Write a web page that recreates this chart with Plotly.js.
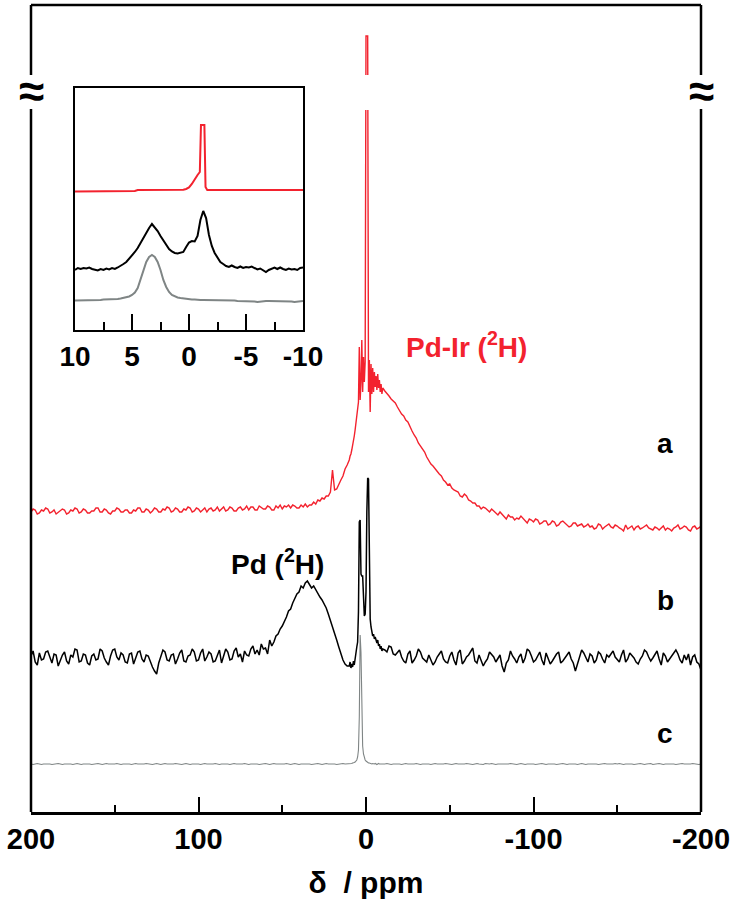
<!DOCTYPE html>
<html>
<head>
<meta charset="utf-8">
<script src="https://cdn.plot.ly/plotly-3.0.1.min.js"></script>
<style>html,body{margin:0;padding:0;background:#fff;}#chart{width:736px;height:913px;}</style>
</head>
<body>
<div id="chart"></div>
<script>
// ---------- Main spectrum: chemical shift (ppm) ----------
const mainXLeft = [
  200,198.75,197.5,196.25,195,193.75,192.5,191.25,
  190,188.75,187.5,186.25,185,183.75,182.5,181.25,
  180,178.75,177.5,176.25,175,173.75,172.5,171.25,
  170,168.75,167.5,166.25,165,163.75,162.5,161.25,
  160,158.75,157.5,156.25,155,153.75,152.5,151.25,
  150,148.75,147.5,146.25,145,143.75,142.5,141.25,
  140,138.75,137.5,136.25,135,133.75,132.5,131.25,
  130,128.75,127.5,126.25,125,123.75,122.5,121.25,
  120,118.75,117.5,116.25,115,113.75,112.5,111.25,
  110,108.75,107.5,106.25,105,103.75,102.5,101.25,
  100,98.75,97.5,96.25,95,93.75,92.5,91.25,
  90,88.75,87.5,86.25,85,83.75,82.5,81.25,
  80,78.75,77.5,76.25,75,73.75,72.5,71.25,
  70,68.75,67.5,66.25,65,63.75,62.5,61.25,
  60,58.75,57.5,56.25,55,53.75,52.5,51.25,
  50,48.75,47.5,46.25,45,43.75,42.5,41.25,
  40,38.75,37.5,36.25,35,33.75,32.5,31.25,
  30,28.75,27.5,26.25,25,23.75,22.5,21.25,
  20,18.75,17.5,16.25,15,13.75,12.5,11.25];
const mainXMid = [10,9.5,9,8.5,8,7.5,7,6.5,6,5.5,
  5,4.5,4,3.5,3,2.5,2,1.5,1,0.5,
  0,-0.5,-1,-1.5,-2,-2.5,-3,-3.5,-4,-4.5,
  -5,-5.5,-6,-6.5,-7,-7.5,-8,-8.5,-9,-9.5,
  -10];
const mainXRight = [
  -11.25,-12.5,-13.75,-15,-16.25,-17.5,-18.75,-20,
  -21.25,-22.5,-23.75,-25,-26.25,-27.5,-28.75,-30,
  -31.25,-32.5,-33.75,-35,-36.25,-37.5,-38.75,-40,
  -41.25,-42.5,-43.75,-45,-46.25,-47.5,-48.75,-50,
  -51.25,-52.5,-53.75,-55,-56.25,-57.5,-58.75,-60,
  -61.25,-62.5,-63.75,-65,-66.25,-67.5,-68.75,-70,
  -71.25,-72.5,-73.75,-75,-76.25,-77.5,-78.75,-80,
  -81.25,-82.5,-83.75,-85,-86.25,-87.5,-88.75,-90,
  -91.25,-92.5,-93.75,-95,-96.25,-97.5,-98.75,-100,
  -101.25,-102.5,-103.75,-105,-106.25,-107.5,-108.75,-110,
  -111.25,-112.5,-113.75,-115,-116.25,-117.5,-118.75,-120,
  -121.25,-122.5,-123.75,-125,-126.25,-127.5,-128.75,-130,
  -131.25,-132.5,-133.75,-135,-136.25,-137.5,-138.75,-140,
  -141.25,-142.5,-143.75,-145,-146.25,-147.5,-148.75,-150,
  -151.25,-152.5,-153.75,-155,-156.25,-157.5,-158.75,-160,
  -161.25,-162.5,-163.75,-165,-166.25,-167.5,-168.75,-170,
  -171.25,-172.5,-173.75,-175,-176.25,-177.5,-178.75,-180,
  -181.25,-182.5,-183.75,-185,-186.25,-187.5,-188.75,-190,
  -191.25,-192.5,-193.75,-195,-196.25,-197.5,-198.75,-200];

// a : Pd-Ir (2H)  (intensity incl. vertical offset)
const aLeft = [
  300,303,302,298,299,302,301,304,
  303,299,300,302,298,300,301,303,
  302,298,299,302,301,304,303,299,
  300,303,302,299,299,301,301,304,
  304,300,300,303,302,299,298,301,
  301,304,303,300,300,302,302,299,
  299,302,301,304,304,300,300,303,
  302,299,301,304,303,300,300,303,
  302,305,304,300,301,304,303,300,
  300,303,302,305,304,300,301,304,
  303,300,302,304,300,303,304,301,
  302,305,301,303,305,301,302,305,
  304,301,301,304,305,302,303,306,
  302,305,305,302,302,306,304,303,
  303,306,305,302,302,306,304,307,
  303,306,305,307,304,307,306,304,
  304,307,305,308,305,307,307,310,
  308,312,311,314,313,316,316,320,
  342,322,323,328,332,336,343,347];
const aMid = [352,356,358,362,366,372,376,382,388,396,
  404,410,465,412,430,472,420,455,430,450,
  776,776,776,420,452,400,448,418,444,420,
  440,425,436,422,438,424,432,420,428,418,
  424];
const aRight = [
  421,419,416,413,411,409,405,401,
  398,396,392,390,385,381,377,374,
  369,366,363,360,355,351,348,346,
  343,341,338,336,332,330,327,328,
  324,322,321,320,316,315,318,316,
  312,311,309,309,306,306,303,305,
  304,302,300,303,301,298,297,300,
  298,296,293,297,295,295,292,294,
  293,296,294,291,289,293,292,290,
  293,292,288,289,291,291,287,288,
  291,290,286,287,290,291,289,288,
  285,286,289,289,286,287,288,285,
  286,288,285,286,283,284,288,287,
  283,285,287,288,285,284,287,286,
  284,283,281,287,283,285,286,282,
  285,286,283,284,286,287,284,283,
  282,285,284,282,284,286,282,284,
  283,281,284,285,287,283,284,286,
  285,282,281,285,286,283,284,286];

// b : Pd (2H)
const bLeft = [
  156,161,150,147,159,152,153,160,
  161,155,149,158,157,146,152,157,
  160,151,148,157,155,163,162,150,
  151,158,157,149,147,156,158,152,
  153,163,161,154,150,147,156,162,
  163,155,152,159,157,150,149,158,
  159,148,154,160,161,153,150,157,
  156,150,145,141,138,149,155,162,
  160,152,151,157,158,148,153,159,
  162,151,150,156,157,163,160,151,
  152,159,163,151,155,160,158,150,
  151,157,162,149,156,163,160,152,
  153,161,164,155,158,150,161,157,
  156,163,166,158,162,157,168,163,
  164,158,172,166,170,176,178,183,
  186,190,195,201,203,209,214,218,
  220,226,224,229,231,228,224,226,
  222,218,215,212,208,204,198,192,
  186,179,172,165,158,152,148,146];
const bMid = [146,150,144,148,145,151,147,155,160,165,
  170,200,290,292,238,236,236,205,196,198,
  220,300,334,333,250,193,185,179,176,178,
  173,175,171,169,172,166,168,163,166,161,
  163];
const bRight = [
  162,160,166,165,158,157,160,162,
  155,151,149,158,161,149,152,156,
  163,160,154,152,150,157,151,147,
  150,155,158,161,153,150,149,156,
  160,152,147,159,162,148,151,155,
  157,160,164,151,149,157,152,146,
  150,153,160,158,155,150,153,157,
  146,140,149,152,161,156,153,149,
  155,158,149,154,163,161,156,150,
  152,156,160,152,147,159,154,148,
  151,155,158,160,149,151,154,157,
  160,153,149,141,148,155,162,159,
  154,150,158,156,149,152,160,158,
  153,149,157,155,158,161,155,152,
  150,157,162,150,153,159,157,154,
  150,148,153,156,162,160,155,151,
  154,157,161,153,147,159,156,150,
  153,156,160,162,158,152,149,157,
  152,158,147,155,157,150,148,142];

// c : reference
const cLeft = [
  48,47.5,48,48.5,48,47.5,48,48,
  48.5,48,47.5,48,48,48.5,48,47.5,
  48,48,48.5,48,47.5,48,48.5,48,
  47.5,48,48,48.5,48,47.5,48,48,
  48.5,48,47.5,48,48.5,48,48,47.5,
  48,48.5,48,47.5,48,48,48.5,48,
  47.5,48,48.5,48,48,47.5,48,48.5,
  48,48,47.5,48,48.5,48,47.5,48,
  48.5,48,48,47.5,48,48.5,48,48,
  47.5,48,48.5,48,47.5,48,48,48.5,
  48,47.5,48,48.5,48,48,47.5,48,
  48.5,48,47.5,48,48,48.5,48,47.5,
  48,48.5,48,48,47.5,48,48.5,48,
  47.5,48,48,48.5,48,47.5,48,48,
  48.5,48,47.5,48,48.5,48,48,47.5,
  48,48,48.5,48,47.5,48,48.5,48,
  47.5,48,48,48.5,48,48,47.5,48,
  48,48.5,48,47.5,48,48.5,48,48,
  48.5,48,47.5,48,48,48.5,48,48];
const cMid = [48,48.5,48,48.5,49,49,49.5,50,51,52,
  55,62,95,177,160,88,66,58,54,52,
  51,50,49.5,49,49,48.5,48.5,48,48.5,48,
  48,48.5,48,47.5,48,48.5,48,48,47.5,48,
  48];
const cRight = [
  48,48.5,48,47.5,48,48,48.5,48,
  47.5,48,48.5,48,48,47.5,48,48.5,
  48,47.5,48,48,48.5,48,47.5,48,
  48.5,48,48,47.5,48,48.5,48,48,
  47.5,48,48.5,48,48,47.5,48,48.5,
  48,48,47.5,48,48.5,48,48,47.5,
  48.5,48,48,48.5,48,47.5,48,48,
  48,47.5,48,48,48.5,48,48,47.5,
  48,48.5,48,47.5,48,48,48.5,48,
  47.5,48,48,48.5,48,47.5,48,48,
  48.5,48,47.5,48,48,48.5,48,47.5,
  48,48,48.5,48,47.5,48,48.5,48,
  47.5,48,48,48.5,48,48,47.5,48,
  48,48.5,48,48,47.5,48,48.5,48,
  48.5,48,47.5,48,48,48.5,48,47.5,
  48,48,48.5,48,47.5,48,48,48.5,
  47.5,48,48,48.5,48,47.5,48,48,
  48,48.5,48,47.5,48,48,48.5,48,
  48,47.5,48,48.5,48,48,47.5,48];

// ---------- Inset: 10 to -10 ppm ----------
const insetX = [10,9.75,9.5,9.25,9,8.75,8.5,8.25,8,7.75,
  7.5,7.25,7,6.75,6.5,6.25,6,5.75,5.5,5.25,
  5,4.75,4.5,4.25,4,3.75,3.5,3.25,3,2.75,
  2.5,2.25,2,1.75,1.5,1.25,1,0.75,0.5,0.25,
  0,-0.25,-0.5,-0.75,-1,-1.25,-1.5,-1.75,-2,-2.25,
  -2.5,-2.75,-3,-3.25,-3.5,-3.75,-4,-4.25,-4.5,-4.75,
  -5,-5.25,-5.5,-5.75,-6,-6.25,-6.5,-6.75,-7,-7.25,
  -7.5,-7.75,-8,-8.25,-8.5,-8.75,-9,-9.25,-9.5,-9.75,
  -10];
const insetB = [60,62,61,62,61.5,62.5,61,60,59.5,61,
  60,61.5,60.5,62,61,62.5,64,66,68,71,
  74,78,82,87,93,98,102,106,103,99,
  94,90,85,81,78.5,77,76.5,77,78,83,
  87.5,89,88.5,94,110,119,112,95,84,77,
  72,68,66,64,63,64.5,63,62,63.5,62,
  63,62.5,63.5,62,60.5,61.5,60,58,60,61.5,
  62.5,61,62.5,61,60,61.5,60.5,61,60,62,
  62.5];
const insetC = [29.5,29.5,30,30,30,29.5,30,30,30,30,
  30.5,30.5,30.5,31,31,31,31.5,32,32.5,33.5,
  35,37.5,42,50,60,68,73,75,73,68,
  60,50,43,38,35,33.5,32.5,32,31.5,31,
  31,30.5,30.5,30,30,30,30,29.5,29.5,29.5,
  29.5,29.5,29.5,29.5,29.5,29.5,29.5,29,29,29,
  29,29,29,28.5,28,28.5,29,29,29,29,
  29,29,29,29,29,29,28.5,28,28.5,29,
  29];
const insetAX = [10,9,8,7,6,5,4.75,4.5,4,3,2,1,0.5,0.25,0,-0.25,-0.5,-0.75,
  -0.95,-1.05,-1.35,-1.45,-1.6,-1.75,-2,-3,-4,-5,-6,-7,-8,-9,-10];
const insetA = [138.5,138.5,138.5,138.5,138.5,138.5,139,140,140,140,140,140,140.3,141,142.5,146,151,155,
  158,205,205,143,140,140,140,140,140,140,140,140,140,140,140];

// ticks and labels
const mainTicks = [200,100,0,-100,-200];
const mainTickText = ['200','100','0','-100','-200'];
const mainMinor = [150,50,-50,-150];
const insetTicks = [10,5,0,-5,-10];
const insetTickText = ['10','5','0','-5','-10'];
const insetMinor = [7.5,2.5,-2.5,-7.5];

const RED = '#f3222e', BLACK = '#000000', GRAY = '#7f8585';
const FONT = 'Liberation Sans, Arial, sans-serif';

const mainX = mainXLeft.concat(mainXMid, mainXRight);
const traces = [
  {x: mainX, y: aLeft.concat(aMid, aRight), type: 'scatter', mode: 'lines', line: {color: RED, width: 1.4}, xaxis: 'x', yaxis: 'y'},
  {x: mainX, y: bLeft.concat(bMid, bRight), type: 'scatter', mode: 'lines', line: {color: BLACK, width: 1.5}, xaxis: 'x', yaxis: 'y'},
  {x: mainX, y: cLeft.concat(cMid, cRight), type: 'scatter', mode: 'lines', line: {color: GRAY, width: 1.1}, xaxis: 'x', yaxis: 'y'},
  {x: insetAX, y: insetA, type: 'scatter', mode: 'lines', line: {color: RED, width: 2}, xaxis: 'x2', yaxis: 'y2'},
  {x: insetX, y: insetB, type: 'scatter', mode: 'lines', line: {color: BLACK, width: 2}, xaxis: 'x2', yaxis: 'y2'},
  {x: insetX, y: insetC, type: 'scatter', mode: 'lines', line: {color: GRAY, width: 2}, xaxis: 'x2', yaxis: 'y2'}
];

// layout geometry (px)
const W = 736, H = 913, ML = 31, MR = 35, MT = 5, MB = 101;
const PW = W - ML - MR, PH = H - MT - MB;
const px = v => (v - ML) / PW;
const py = v => (H - MB - v) / PH;

function label(text, x, y, color) {
  return {text: text, x: px(x), y: py(y), xref: 'paper', yref: 'paper', showarrow: false,
    xanchor: 'center', yanchor: 'middle', font: {family: FONT, size: 28, color: color, weight: 'bold'}};
}
function brk(x) {
  return {text: '≈', x: px(x), y: py(91), xref: 'paper', yref: 'paper', showarrow: false,
    xanchor: 'center', yanchor: 'middle', font: {family: FONT, size: 46, color: '#000', weight: 'bold'}};
}

const layout = {
  width: W, height: H,
  margin: {l: ML, r: MR, t: MT, b: MB},
  paper_bgcolor: '#fff', plot_bgcolor: 'rgba(0,0,0,0)',
  showlegend: false,
  font: {family: FONT, color: '#000'},
  xaxis: {
    range: [200, -200], tickmode: 'array', tickvals: mainTicks, ticktext: mainTickText,
    ticks: 'inside', ticklen: 15, tickwidth: 2, tickcolor: '#000',
    minor: {tickmode: 'array', tickvals: mainMinor, ticks: 'inside', ticklen: 7, tickwidth: 2, tickcolor: '#000'},
    showline: true, linewidth: 2.5, linecolor: '#000', showgrid: false, zeroline: false,
    tickfont: {family: FONT, size: 29, weight: 'bold', color: '#000'},
    title: {text: 'δ&nbsp; / ppm', font: {family: FONT, size: 30, weight: 'bold', color: '#000'}, standoff: 18},
    fixedrange: true
  },
  yaxis: {range: [0, PH], showline: false, showticklabels: false, ticks: '', showgrid: false, zeroline: false, fixedrange: true},
  xaxis2: {
    anchor: 'y2', domain: [px(75), px(303)], range: [10, -10],
    tickmode: 'array', tickvals: insetTicks, ticktext: insetTickText,
    ticks: 'inside', ticklen: 16, tickwidth: 2, tickcolor: '#000',
    minor: {tickmode: 'array', tickvals: insetMinor, ticks: 'inside', ticklen: 8, tickwidth: 2, tickcolor: '#000'},
    showline: true, mirror: true, linewidth: 2, linecolor: '#000', showgrid: false, zeroline: false,
    tickfont: {family: FONT, size: 28, weight: 'bold', color: '#000'}
  },
  yaxis2: {
    anchor: 'x2', domain: [py(330), py(88)], range: [0, 242],
    showline: true, mirror: true, linewidth: 2, linecolor: '#000',
    showticklabels: false, ticks: '', showgrid: false, zeroline: false
  },
  shapes: [
    {type: 'line', xref: 'paper', yref: 'paper', x0: 0, x1: 1, y0: py(5), y1: py(5), line: {color: '#000', width: 2.5}},
    {type: 'line', xref: 'paper', yref: 'paper', x0: 0, x1: 0, y0: py(5), y1: py(75), line: {color: '#000', width: 2.5}},
    {type: 'line', xref: 'paper', yref: 'paper', x0: 0, x1: 0, y0: py(109), y1: 0, line: {color: '#000', width: 2.5}},
    {type: 'line', xref: 'paper', yref: 'paper', x0: 1, x1: 1, y0: py(5), y1: py(75), line: {color: '#000', width: 2.5}},
    {type: 'line', xref: 'paper', yref: 'paper', x0: 1, x1: 1, y0: py(109), y1: 0, line: {color: '#000', width: 2.5}},
    // axis break gap on the truncated peak
    {type: 'rect', xref: 'x', yref: 'paper', x0: 3, x1: -3, y0: py(110), y1: py(75), fillcolor: '#fff', line: {width: 0}, layer: 'above'}
  ],
  annotations: [
    label('a', 665, 443, '#000'),
    label('b', 665, 600, '#000'),
    label('c', 665, 733, '#000'),
    label('Pd-Ir (<sup>2</sup>H)', 467, 345, RED),
    label('Pd (<sup>2</sup>H)', 277, 562, '#000'),
    brk(31), brk(701)
  ]
};

Plotly.newPlot('chart', traces, layout, {displayModeBar: false, staticPlot: true});
</script>
</body>
</html>
